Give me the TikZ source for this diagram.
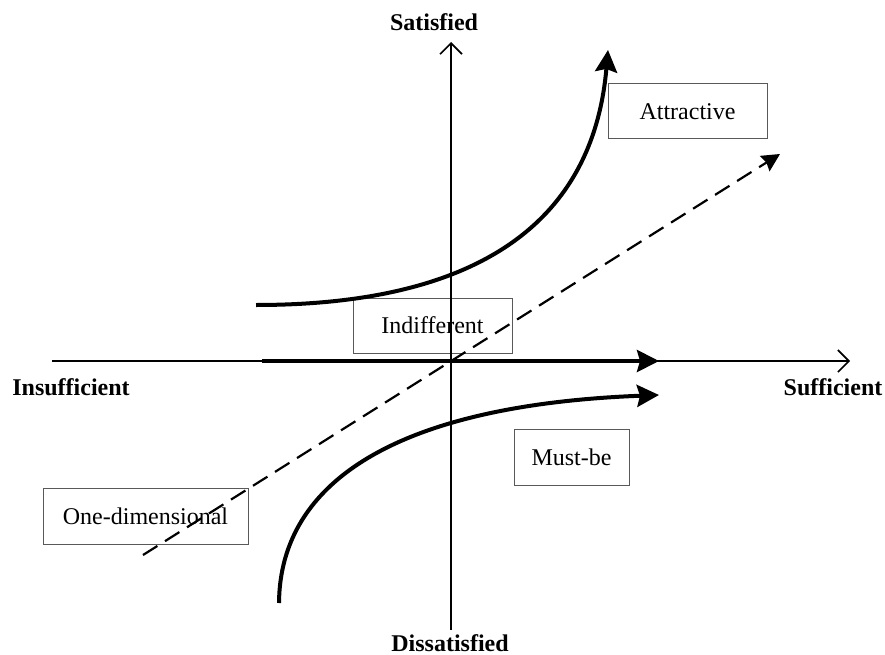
\documentclass[tikz,border=0pt]{standalone}
\usepackage{fontspec}
\setmainfont{Liberation Serif}
\usetikzlibrary{arrows.meta}
\begin{document}
\begin{tikzpicture}[x=1pt,y=-1pt,
  catbox/.style={draw=black!65,line width=1pt,inner sep=0pt,font=\fontsize{24}{28}\selectfont},
  axislabel/.style={inner sep=0pt,font=\fontsize{24}{28}\selectfont\bfseries},
  axisline/.style={line width=1.8pt,-{Straight Barb[length=11pt,width=22pt,line width=1.6pt]}},
  thickcurve/.style={line width=4pt,-{Stealth[length=22pt,width=22pt,inset=3pt]}},
  dashline/.style={line width=2.2pt,dash pattern=on 17pt off 9pt,-{Stealth[length=18pt,width=18pt,inset=2pt]}}]
\useasboundingbox (0,0) rectangle (885,655);
% category boxes
\node[catbox,minimum width=159pt,minimum height=55pt] (attr) at (687.5,111.5) {Attractive};
\node[catbox,minimum width=159pt,minimum height=55pt] (indiff) at (432.5,325.5) {Indifferent};
\node[catbox,minimum width=205pt,minimum height=56pt] (onedim) at (145.5,516) {One-dimensional};
\node[catbox,minimum width=115pt,minimum height=56pt] (must) at (571.5,457) {Must-be};
% axis labels
\node[axislabel] (sat) at (434,22) {Satisfied};
\node[axislabel] (dis) at (450,643) {Dissatisfied};
\node[axislabel] (insuf) at (71,387) {Insufficient};
\node[axislabel] (suf) at (833,387) {Sufficient};
% axis coordinates
\coordinate (xl) at (52,361);
\coordinate (xr) at (850,361);
\coordinate (yb) at (451,630);
\coordinate (yt) at (451,42);
% curve coordinates
\coordinate (ia) at (262,361);
\coordinate (ib) at (659,361);
\coordinate (aa) at (256,305);
\coordinate (ab) at (608,50);
\coordinate (ma) at (279,603);
\coordinate (mb) at (659,395);
\coordinate (oa) at (143,555);
\coordinate (ob) at (780,154);
% axes
\draw[axisline] (xl) -- (xr);
\draw[axisline] (yb) -- (yt);
% curves
\draw[thickcurve] (ia) -- (ib);
\draw[thickcurve] (aa) .. controls (460,305) and (592,235) .. (ab);
\draw[thickcurve] (ma) .. controls (280,480) and (400,405) .. (mb);
\draw[dashline] (oa) -- (ob);
\end{tikzpicture}
\end{document}
